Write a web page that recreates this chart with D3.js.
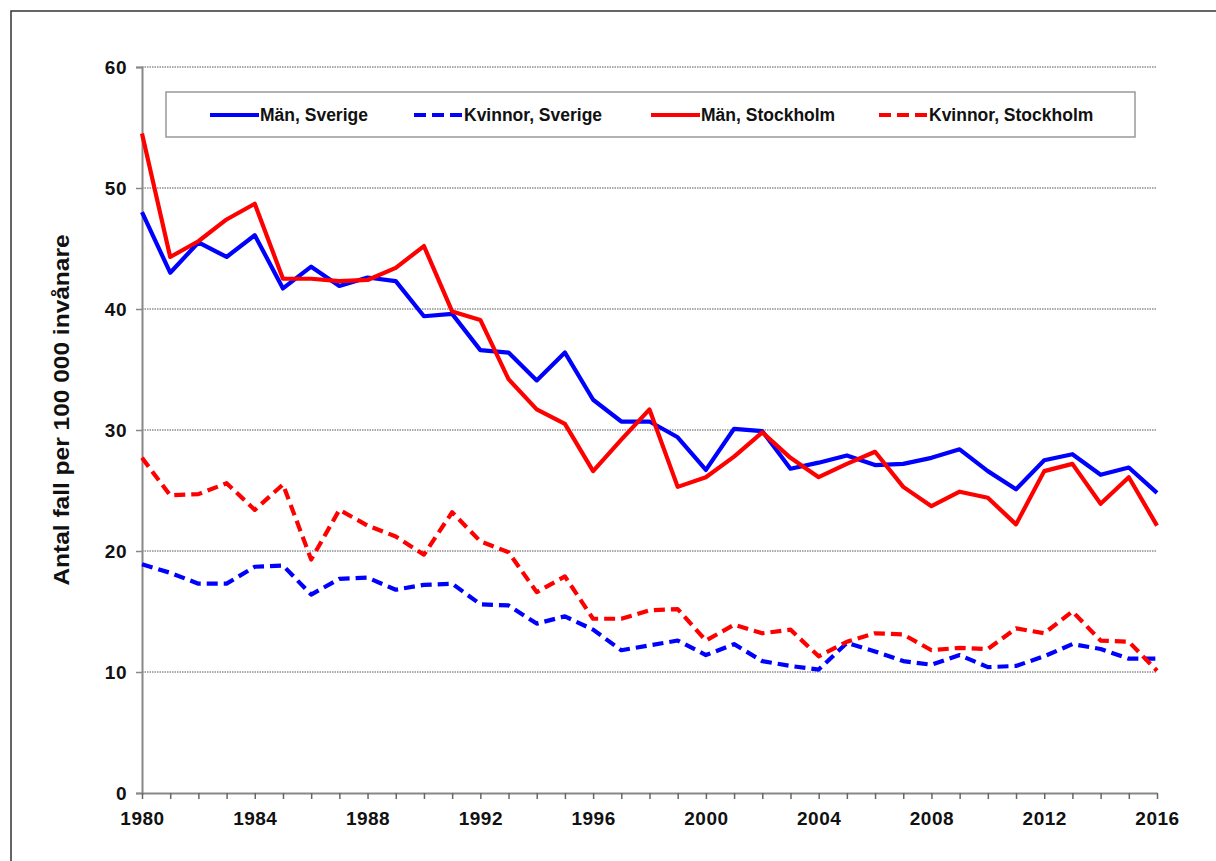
<!DOCTYPE html>
<html>
<head>
<meta charset="utf-8">
<script src="https://cdn.jsdelivr.net/npm/d3@7"></script>
<style>
  body { margin: 0; background: #fff; }
  svg { display: block; font-family: "Liberation Sans", Arial, sans-serif; }
  .tick-label { font-weight: bold; font-size: 19px; letter-spacing: 0.5px; fill: #111; }
  .legend-text { font-weight: bold; font-size: 17.5px; fill: #111; }
</style>
</head>
<body>
<div id="vis"></div>
<script>
const years = d3.range(1980, 2017);
const xTicks = [1980, 1984, 1988, 1992, 1996, 2000, 2004, 2008, 2012, 2016];
const yTicks = [0, 10, 20, 30, 40, 50, 60];

const menSweden = [48.0, 43.0, 45.5, 44.3, 46.1, 41.7, 43.5, 41.9, 42.6, 42.3, 39.4, 39.6, 36.6,
  36.4, 34.1, 36.4, 32.5, 30.7, 30.7, 29.4, 26.7, 30.1, 29.9, 26.8, 27.3,
  27.9, 27.1, 27.2, 27.7, 28.4, 26.6, 25.1, 27.5, 28.0, 26.3, 26.9, 24.8];
const womenSweden = [18.9, 18.2, 17.3, 17.3, 18.7, 18.8, 16.4, 17.7, 17.8, 16.8, 17.2, 17.3, 15.6,
  15.5, 14.0, 14.6, 13.5, 11.8, 12.2, 12.6, 11.4, 12.3, 10.9, 10.5, 10.2,
  12.4, 11.7, 10.9, 10.6, 11.4, 10.4, 10.5, 11.3, 12.3, 11.9, 11.1, 11.1];
const menStockholm = [54.5, 44.3, 45.6, 47.4, 48.7, 42.5, 42.5, 42.3, 42.4, 43.4, 45.2, 39.8, 39.1,
  34.2, 31.7, 30.5, 26.6, 29.2, 31.7, 25.3, 26.1, 27.8, 29.8, 27.7, 26.1,
  27.2, 28.2, 25.3, 23.7, 24.9, 24.4, 22.2, 26.6, 27.2, 23.9, 26.1, 22.1];
const womenStockholm = [27.7, 24.6, 24.7, 25.6, 23.4, 25.5, 19.3, 23.4, 22.1, 21.2, 19.7, 23.2, 20.8,
  19.9, 16.6, 17.9, 14.4, 14.4, 15.1, 15.2, 12.6, 13.9, 13.2, 13.5, 11.3,
  12.5, 13.2, 13.1, 11.8, 12.0, 11.9, 13.6, 13.2, 15.0, 12.6, 12.5, 10.1];

const seriesNames = ["Män, Sverige", "Kvinnor, Sverige", "Män, Stockholm", "Kvinnor, Stockholm"];
const seriesValues = [menSweden, womenSweden, menStockholm, womenStockholm];
const seriesColors = ["#0000ff", "#0000ff", "#ff0000", "#ff0000"];
const seriesDashed = [false, true, false, true];

const W = 1216, H = 861;
const margin = { top: 67, right: 59, bottom: 68, left: 142 };
const width = W - margin.left - margin.right;
const height = H - margin.top - margin.bottom;

const svg = d3.select("#vis").append("svg")
  .attr("width", W)
  .attr("height", H);

// outer frame
svg.append("rect")
  .attr("x", 11).attr("y", 11)
  .attr("width", W).attr("height", H)
  .attr("fill", "none")
  .attr("stroke", "#333")
  .attr("stroke-width", 1.5);

const g = svg.append("g").attr("transform", `translate(${margin.left},${margin.top})`);

const x = d3.scaleLinear().domain([1980, 2016]).range([0, width]);
const y = d3.scaleLinear().domain([0, 60]).range([height, 0]);

// gridlines
g.append("g")
  .selectAll("line")
  .data(yTicks.filter(d => d > 0))
  .join("line")
  .attr("x1", 0).attr("x2", width)
  .attr("y1", d => y(d)).attr("y2", d => y(d))
  .attr("stroke", "#555")
  .attr("stroke-width", 1)
  .attr("stroke-dasharray", "1.5,1");

// y axis
const yAxis = g.append("g")
  .call(d3.axisLeft(y).tickValues(yTicks).tickSize(6).tickPadding(9));
yAxis.select(".domain").attr("stroke", "#888").attr("stroke-width", 2);
yAxis.selectAll(".tick line").attr("stroke", "#888").attr("stroke-width", 1.5);
yAxis.selectAll(".tick text").attr("class", "tick-label").attr("dy", "0.35em");

// x axis
const xAxis = g.append("g")
  .attr("transform", `translate(0,${height})`)
  .call(d3.axisBottom(x).tickValues(years).tickSize(6).tickSizeOuter(0).tickFormat(d => xTicks.includes(d) ? d : ""));
xAxis.select(".domain").attr("stroke", "#888").attr("stroke-width", 2);
xAxis.selectAll(".tick line").attr("stroke", "#666").attr("stroke-width", 1.5);
xAxis.selectAll(".tick text").attr("class", "tick-label").attr("dy", "1.2em");

// y title
svg.append("text")
  .attr("transform", `translate(69,${margin.top + height / 2 - 20}) rotate(-90) scale(1,0.92)`)
  .attr("text-anchor", "middle")
  .style("font-size", "24.5px")
  .style("font-weight", "bold")
  .attr("fill", "#111")
  .text("Antal fall per 100 000 invånare");

// lines
const line = d3.line()
  .x((d, i) => x(years[i]))
  .y(d => y(d));

seriesValues.forEach((vals, k) => {
  g.append("path")
    .datum(vals)
    .attr("fill", "none")
    .attr("stroke", seriesColors[k])
    .attr("stroke-width", 4.2)
    .attr("stroke-linejoin", "round")
    .attr("stroke-dasharray", seriesDashed[k] ? "11,6" : null)
    .attr("d", line);
});

// legend
const legend = svg.append("g");
legend.append("rect")
  .attr("x", 166).attr("y", 92)
  .attr("width", 969).attr("height", 45)
  .attr("fill", "#fff")
  .attr("stroke", "#999")
  .attr("stroke-width", 1.5);

const legendX = [210, 414, 651, 879];
seriesNames.forEach((name, k) => {
  const lx = legendX[k];
  legend.append("line")
    .attr("x1", lx).attr("x2", lx + 49)
    .attr("y1", 115).attr("y2", 115)
    .attr("stroke", seriesColors[k])
    .attr("stroke-width", 4.2)
    .attr("stroke-dasharray", seriesDashed[k] ? "12,6" : null);
  legend.append("text")
    .attr("class", "legend-text")
    .attr("x", lx + 50)
    .attr("y", 115)
    .attr("dy", "0.35em")
    .text(name);
});
</script>
</body>
</html>
